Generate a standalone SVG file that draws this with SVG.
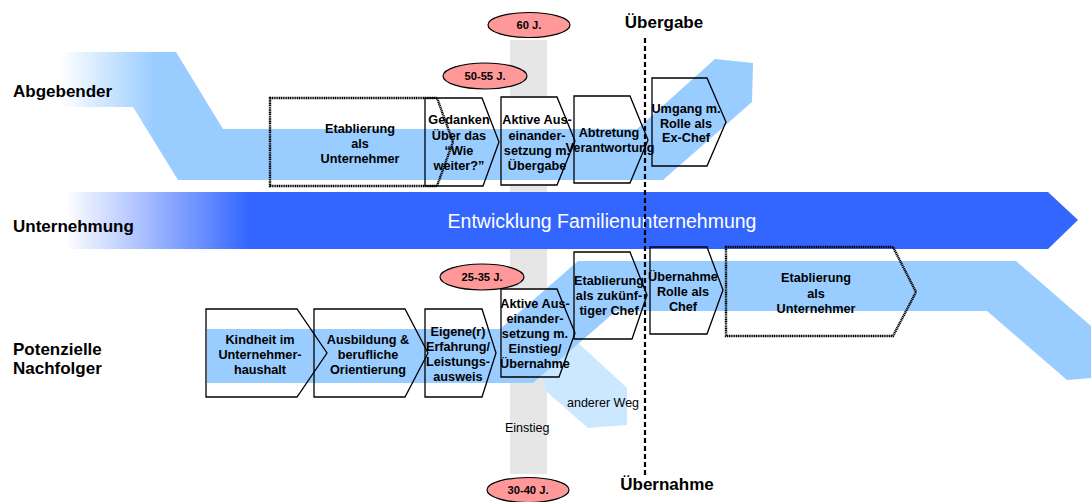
<svg xmlns="http://www.w3.org/2000/svg" width="1091" height="502" viewBox="0 0 1091 502">
<defs>
<linearGradient id="gTop" gradientUnits="userSpaceOnUse" x1="60" y1="0" x2="155" y2="0">
<stop offset="0" stop-color="#FFFFFF"/><stop offset="1" stop-color="#99CCFF"/>
</linearGradient>
<linearGradient id="gMid" gradientUnits="userSpaceOnUse" x1="65" y1="0" x2="250" y2="0">
<stop offset="0" stop-color="#FFFFFF"/><stop offset="1" stop-color="#3366FF"/>
</linearGradient>
<style>
text{font-family:"Liberation Sans",Arial,sans-serif;fill:#000}
.lbl{font-size:17px;font-weight:bold}
.node{font-size:12.7px;font-weight:bold;text-anchor:middle}
.age{font-size:11.2px;font-weight:bold;text-anchor:middle}
.small{font-size:12.5px}
.chev{fill:none;stroke:#000;stroke-width:1.3}
.dot{fill:none;stroke:#000;stroke-width:2.4;stroke-dasharray:1.2 0.6}
.ell{fill:#FF9999;stroke:#000;stroke-width:1.2}
.grey{fill:#E6E6E6}
.band{fill:#99CCFF}
</style>
</defs>
<g id="background">
<rect class="grey" x="510" y="40" width="37" height="57"/>
<rect class="grey" x="510" y="185" width="37" height="104"/>
<rect class="grey" x="510" y="377" width="37" height="97"/>
</g>
<g id="unternehmung-arrow">
<polygon points="65,192 1048,192 1078,220 1048,249 65,249" fill="url(#gMid)"/>
<text x="602" y="228" font-size="19.5" text-anchor="middle" style="fill:#FFFFFF">Entwicklung Familienunternehmung</text>
</g>
<g id="anderer-weg">
<polygon points="540,372 575,340 627,388 627,425 588,428 547,392" fill="#CCE8FF"/>
<text class="small" x="567" y="407">anderer Weg</text>
</g>
<g id="band-abgebender">
<polygon points="60,52 176,52 223,129 637,129 715,59 753,63 752,102 663,180 178,180 133,107 60,107" fill="url(#gTop)"/>
</g>
<g id="band-nachfolger">
<polygon class="band" points="207,329 500,329 578,261 1016,261 1091,326 1091,378 1067,380 987,311 616,311 533,383 207,383"/>
</g>
<g id="einstieg-label"><text class="small" x="505" y="432">Einstieg</text></g>
<g id="age-60"><ellipse class="ell" cx="529" cy="25" rx="41" ry="12.5"/><text class="age" x="529" y="29">60 J.</text></g>
<g id="age-50-55"><ellipse class="ell" cx="485" cy="76" rx="42" ry="13"/><text class="age" x="485" y="80">50-55 J.</text></g>
<g id="age-25-35"><ellipse class="ell" cx="482" cy="277" rx="42" ry="13"/><text class="age" x="482" y="281">25-35 J.</text></g>
<g id="age-30-40"><ellipse class="ell" cx="528" cy="490" rx="41" ry="12.5"/><text class="age" x="528" y="494">30-40 J.</text></g>
<g id="t1">
<polygon class="dot" points="270,98 437,98 453,142 437,186 270,186"/>
<text class="node" x="360" y="133">Etablierung</text><text class="node" x="360" y="148">als</text><text class="node" x="360" y="163">Unternehmer</text>
</g>
<g id="t2">
<polygon class="chev" points="425,98 482,98 499,142 483,186 425,186"/>
<text class="node" x="459" y="124">Gedanken</text><text class="node" x="459" y="139.5">Über das</text><text class="node" x="459" y="155">“Wie</text><text class="node" x="459" y="170">weiter?”</text>
</g>
<g id="t3">
<polygon class="chev" points="501,97 557,97 575,141 557,185 501,185"/>
<text class="node" x="537" y="124">Aktive Aus-</text><text class="node" x="537" y="139.5">einander-</text><text class="node" x="537" y="155">setzung m.</text><text class="node" x="537" y="170">Übergabe</text>
</g>
<g id="t4">
<polygon class="chev" points="574,96 630,96 648,140 630,183 574,183"/>
<text class="node" x="609" y="137">Abtretung</text><text class="node" x="610" y="152">Verantwortung</text>
</g>
<g id="t5">
<polygon class="chev" points="652,78 707,78 726,122 707,166 652,166"/>
<text class="node" x="686" y="113">Umgang m.</text><text class="node" x="686" y="127.5">Rolle als</text><text class="node" x="686" y="142">Ex-Chef</text>
</g>
<g id="b1">
<polygon class="chev" points="206,309 297,309 327,353 297,397 206,397"/>
<text class="node" x="260" y="344">Kindheit im</text><text class="node" x="260" y="359">Unternehmer-</text><text class="node" x="260" y="374">haushalt</text>
</g>
<g id="b2">
<polygon class="chev" points="314,309 405,309 428,353 405,397 314,397"/>
<text class="node" x="368" y="344">Ausbildung &amp;</text><text class="node" x="368" y="359">berufliche</text><text class="node" x="368" y="374">Orientierung</text>
</g>
<g id="b3">
<polygon class="chev" points="425,309 482,309 496,353 482,397 425,397"/>
<text class="node" x="458" y="336">Eigene(r)</text><text class="node" x="458" y="351">Erfahrung/</text><text class="node" x="458" y="366">Leistungs-</text><text class="node" x="458" y="381">ausweis</text>
</g>
<g id="b4">
<polygon class="chev" points="501,289 557,289 575,333 559,377 501,377"/>
<text class="node" x="535" y="307.5">Aktive Aus-</text><text class="node" x="535" y="323">einander-</text><text class="node" x="535" y="338">setzung m.</text><text class="node" x="535" y="353">Einstieg/</text><text class="node" x="535" y="368">Übernahme</text>
</g>
<g id="b5">
<polygon class="chev" points="574,252 630,252 647,295 632,339 574,339"/>
<text class="node" x="609" y="285">Etablierung</text><text class="node" x="609" y="300">als zukünf-</text><text class="node" x="609" y="315">tiger Chef</text>
</g>
<g id="b6">
<polygon class="chev" points="650,247 707,247 723,290 707,334 650,334"/>
<text class="node" x="683" y="281">Übernahme</text><text class="node" x="683" y="296">Rolle als</text><text class="node" x="683" y="311">Chef</text>
</g>
<g id="b7">
<polygon class="dot" points="726,247 893,247 916,292 893,336 726,336"/>
<text class="node" x="816" y="282">Etablierung</text><text class="node" x="816" y="297.5">als</text><text class="node" x="816" y="313">Unternehmer</text>
</g>
<g id="connectors">
<line x1="645" y1="38" x2="645" y2="476" stroke="#000" stroke-width="2.2" stroke-dasharray="5 3"/>
</g>
<g id="labels">
<text class="lbl" x="664" y="28" text-anchor="middle">Übergabe</text>
<text class="lbl" x="667" y="490" text-anchor="middle">Übernahme</text>
<text class="lbl" x="13" y="97">Abgebender</text>
<text class="lbl" x="13" y="232">Unternehmung</text>
<text class="lbl" x="13" y="355">Potenzielle</text>
<text class="lbl" x="13" y="374">Nachfolger</text>
</g>
</svg>
